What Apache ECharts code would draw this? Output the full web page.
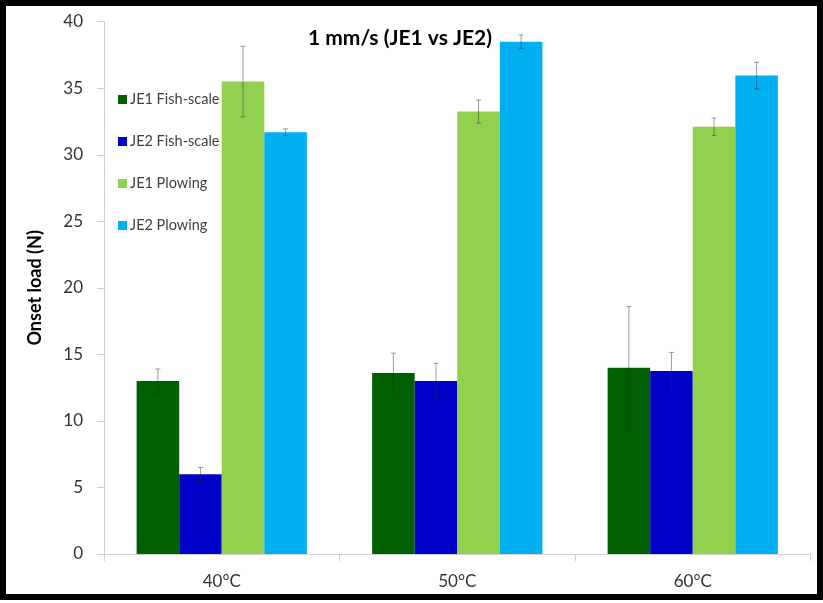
<!DOCTYPE html>
<html>
<head>
<meta charset="utf-8">
<script src="https://cdn.jsdelivr.net/npm/echarts@6/dist/echarts.min.js"></script>
<style>
  html, body { margin: 0; padding: 0; background: #fff; }
  #chart { width: 823px; height: 603px; }
</style>
</head>
<body>
<div id="chart"></div>
<script>
// Onset load per temperature, JE1 vs JE2 at 1 mm/s
const categories = ['40°C', '50°C', '60°C'];
const seriesNames = ['JE1 Fish-scale', 'JE2 Fish-scale', 'JE1 Plowing', 'JE2 Plowing'];

const je1Fish = [13.0, 13.6, 14.0];
const je2Fish = [6.0, 13.0, 13.75];
const je1Plow = [35.5, 33.25, 32.1];
const je2Plow = [31.7, 38.5, 35.95];

// standard deviations (half length of each error bar)
const je1FishErr = [0.9, 1.5, 4.6];
const je2FishErr = [0.5, 1.33, 1.4];
const je1PlowErr = [2.65, 0.87, 0.66];
const je2PlowErr = [0.25, 0.5, 1.0];

const yTicks = { min: 0, max: 40, interval: 5 };

const colors = ['#006000', '#0000c8', '#92d050', '#00b0f0'];
const values = [je1Fish, je2Fish, je1Plow, je2Plow];
const errors = [je1FishErr, je2FishErr, je1PlowErr, je2PlowErr];

const CATEGORY_GAP = 0.277;
const FONT = 'Lato, "Open Sans", sans-serif';

// error bar items: [categoryIndex, seriesIndex, value, low, high]
const errorData = [];
values.forEach((vals, s) => {
  vals.forEach((v, c) => {
    errorData.push([c, s, v, v - errors[s][c], v + errors[s][c]]);
  });
});

const chart = echarts.init(document.getElementById('chart'), null, { renderer: 'canvas' });

const barSeries = seriesNames.map((name, i) => ({
  name: name,
  type: 'bar',
  data: values[i],
  barGap: '0%',
  barCategoryGap: (CATEGORY_GAP * 100) + '%',
  itemStyle: { color: colors[i] },
  z: 2
}));

const errorSeries = {
  type: 'custom',
  name: 'errors',
  data: errorData,
  encode: { x: 0, y: [3, 4] },
  z: 5,
  silent: true,
  renderItem: function (params, api) {
    const c = api.value(0);
    const s = api.value(1);
    const low = api.value(3);
    const high = api.value(4);
    const band = api.size([1, 0])[0];
    const barW = band * (1 - CATEGORY_GAP) / seriesNames.length;
    const center = api.coord([c, 0])[0];
    const x = center + (s - (seriesNames.length - 1) / 2) * barW;
    const yLow = api.coord([c, low])[1];
    const yHigh = api.coord([c, high])[1];
    const cap = 2.5;
    const style = { stroke: 'rgba(40,40,40,0.45)', lineWidth: 1 };
    return {
      type: 'group',
      children: [
        { type: 'line', shape: { x1: x, y1: yLow, x2: x, y2: yHigh }, style: style },
        { type: 'line', shape: { x1: x - cap, y1: yHigh, x2: x + cap, y2: yHigh }, style: style },
        { type: 'line', shape: { x1: x - cap, y1: yLow, x2: x + cap, y2: yLow }, style: style }
      ]
    };
  }
};

chart.setOption({
  animation: false,
  backgroundColor: '#ffffff',
  color: colors,
  title: {
    text: '1 mm/s (JE1 vs JE2)',
    left: 395,
    top: 23,
    textAlign: 'center',
    textStyle: { fontFamily: FONT, fontWeight: 'bold', fontSize: 21, color: '#000' }
  },
  legend: {
    orient: 'vertical',
    left: 113,
    top: 87,
    itemWidth: 9,
    itemHeight: 9,
    itemGap: 27,
    icon: 'rect',
    data: seriesNames,
    textStyle: { fontFamily: FONT, fontSize: 14.5, color: '#404040', lineHeight: 14, padding: [0, 0, 0, -2] }
  },
  grid: { left: 104, right: 12.5, top: 21.7, bottom: 49, containLabel: false },
  xAxis: {
    type: 'category',
    data: categories,
    axisLine: { lineStyle: { color: '#d0d0d0', width: 1 } },
    axisTick: { show: true, length: 7, lineStyle: { color: '#d0d0d0' } },
    axisLabel: { fontFamily: FONT, fontSize: 17, color: '#333', margin: 19 },
    splitLine: { show: false }
  },
  yAxis: {
    type: 'value',
    min: yTicks.min,
    max: yTicks.max,
    interval: yTicks.interval,
    name: 'Onset load (N)',
    nameLocation: 'middle',
    nameGap: 60,
    nameTextStyle: { fontFamily: FONT, fontWeight: 'bold', fontSize: 18, color: '#000' },
    axisLine: { show: true, lineStyle: { color: '#d0d0d0', width: 1 } },
    axisTick: { show: true, length: 7, lineStyle: { color: '#d0d0d0' } },
    axisLabel: { fontFamily: FONT, fontSize: 17, color: '#333', margin: 21 },
    splitLine: { show: false }
  },
  graphic: [{
    type: 'rect',
    shape: { x: 3, y: 3, width: 817, height: 594 },
    style: { fill: 'none', stroke: '#000', lineWidth: 6 },
    z: 100,
    silent: true
  }],
  series: barSeries.concat([errorSeries])
});
</script>
</body>
</html>
